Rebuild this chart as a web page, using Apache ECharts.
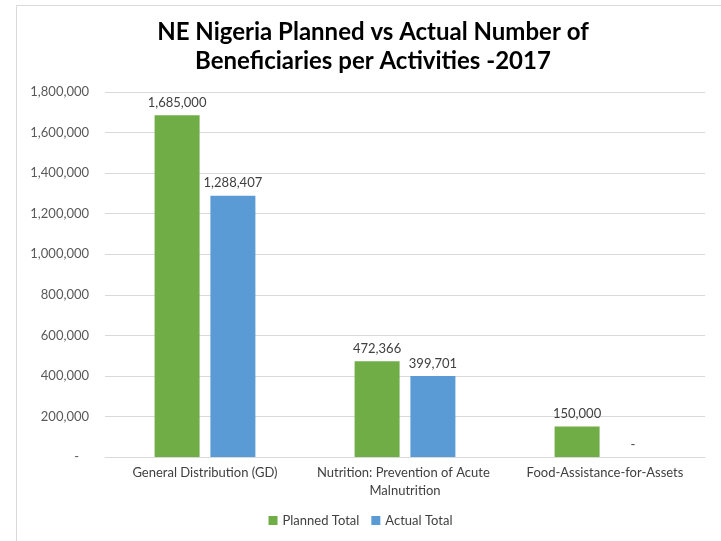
<!DOCTYPE html>
<html>
<head>
<meta charset="utf-8">
<script src="https://cdn.jsdelivr.net/npm/echarts@6/dist/echarts.min.js"></script>
<style>
  html, body { margin: 0; padding: 0; background: #ffffff; }
  #chart { width: 721px; height: 541px; }
</style>
</head>
<body>
<div id="chart"></div>
<script>
// Activities and beneficiary counts (2017)
const categories = [
  'General Distribution (GD)',
  'Nutrition: Prevention of Acute Malnutrition',
  'Food-Assistance-for-Assets'
];
const plannedTotal = [1685000, 472366, 150000];
const actualTotal = [1288407, 399701, 0];
const seriesNames = ['Planned Total', 'Actual Total'];

const FONT = 'Lato, "Open Sans", sans-serif';

// Excel-style number format: thousands separators, zero shown as a dash
function fmt(v) {
  if (v === 0) return '-';
  return v.toLocaleString('en-US');
}

const chart = echarts.init(document.getElementById('chart'));
chart.setOption({
  animation: false,
  backgroundColor: '#ffffff',
  title: {
    text: 'NE Nigeria Planned vs Actual Number of\nBeneficiaries per Activities -2017',
    left: 368,
    textAlign: 'center',
    top: 13,
    textStyle: {
      fontFamily: FONT,
      fontWeight: 'bold',
      fontSize: 24,
      lineHeight: 29,
      color: '#000000'
    }
  },
  graphic: [{
    type: 'rect',
    shape: { x: 16.5, y: 5.5, width: 720, height: 560 },
    style: { fill: 'none', stroke: '#d9d9d9', lineWidth: 1 },
    silent: true
  }],
  legend: {
    data: seriesNames,
    bottom: 9,
    left: 'center',
    itemWidth: 9,
    itemHeight: 9,
    itemGap: 12,
    icon: 'rect',
    textStyle: { fontFamily: FONT, fontSize: 13, color: '#404040' }
  },
  grid: { left: 105, right: 16, top: 92, bottom: 84, containLabel: false },
  xAxis: {
    type: 'category',
    data: categories,
    axisTick: { show: false },
    axisLine: { show: true, lineStyle: { color: '#d9d9d9' } },
    axisLabel: {
      fontFamily: FONT,
      fontSize: 13,
      color: '#404040',
      margin: 7,
      lineHeight: 18,
      width: 196,
      overflow: 'break',
      interval: 0
    }
  },
  yAxis: {
    type: 'value',
    min: 0,
    max: 1800000,
    interval: 200000,
    axisLine: { show: false },
    axisTick: { show: false },
    splitLine: { lineStyle: { color: '#d9d9d9' } },
    axisLabel: {
      fontFamily: FONT,
      fontSize: 13,
      color: '#595959',
      margin: 16,
      formatter: v => (v === 0 ? '-   ' : fmt(v))
    }
  },
  series: [
    {
      name: seriesNames[0],
      type: 'bar',
      data: plannedTotal,
      barWidth: 45,
      barGap: '24%',
      itemStyle: { color: '#70ad47' },
      label: {
        show: true,
        position: 'top',
        distance: 6,
        fontFamily: FONT,
        fontSize: 13,
        color: '#404040',
        formatter: p => fmt(p.value)
      }
    },
    {
      name: seriesNames[1],
      type: 'bar',
      data: actualTotal,
      barWidth: 45,
      itemStyle: { color: '#5b9bd5' },
      label: {
        show: true,
        position: 'top',
        distance: 6,
        fontFamily: FONT,
        fontSize: 13,
        color: '#404040',
        formatter: p => fmt(p.value)
      }
    }
  ]
});
</script>
</body>
</html>
